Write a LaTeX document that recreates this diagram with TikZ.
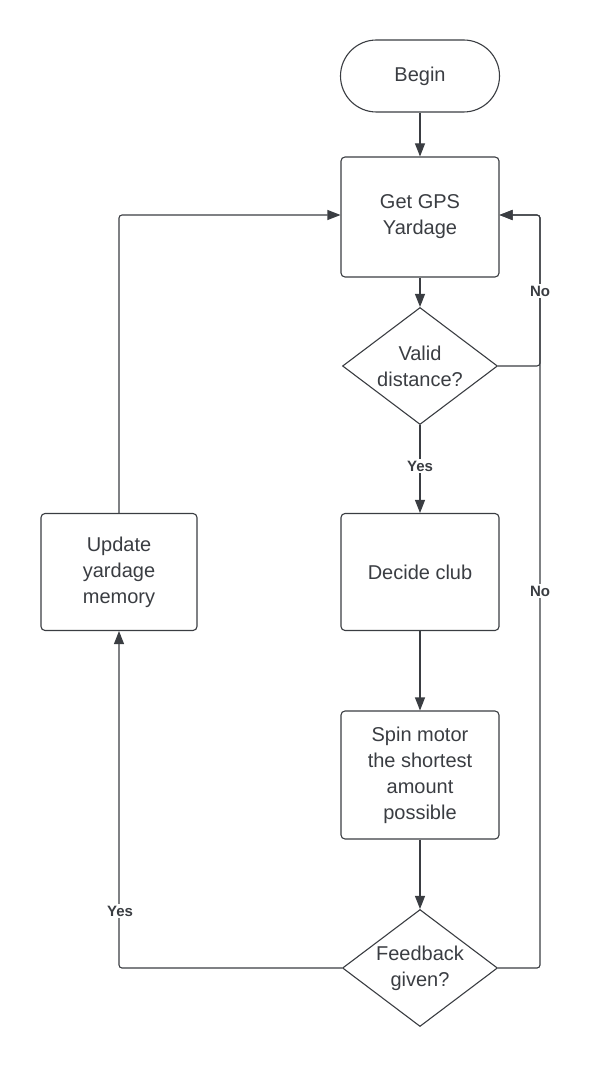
\documentclass[tikz,border=0pt]{standalone}
\usepackage{fontspec}
\setmainfont{Liberation Sans}
\usetikzlibrary{shapes.geometric,arrows.meta}
\definecolor{ink}{HTML}{3A3D42}
\begin{document}
\begin{tikzpicture}[x=1pt,y=-1pt,
  every node/.style={text=ink},
  box/.style={draw=ink, line width=1.1pt, rounded corners=4pt, minimum width=158pt, minimum height=118pt, align=center, font=\fontsize{20}{26}\selectfont},
  term/.style={draw=ink, line width=1.1pt, rounded corners=36pt, minimum width=159pt, minimum height=72pt, font=\fontsize{20}{26}\selectfont},
  dec/.style={draw=ink, line width=1.1pt, diamond, aspect=1.32, inner sep=0pt, minimum width=155pt, minimum height=117pt, align=center, font=\fontsize{20}{26}\selectfont},
  conn/.style={draw=ink, line width=1.1pt, rounded corners=3pt},
  arr/.style={conn, -{Triangle[length=13pt,width=10pt]}},
  lab/.style={fill=white, font=\bfseries\fontsize{15}{17}\selectfont, inner sep=2pt}
]
\useasboundingbox (0,0) rectangle (590,1067);
\node[term] (begin) at (420,76) {Begin};
\node[box, minimum height=120pt] (gps) at (420,217) {Get GPS\\Yardage};
\node[dec] (valid) at (420,366) {Valid\\distance?};
\node[box, minimum height=117pt] (decide) at (420,572) {Decide club};
\node[box, minimum height=128pt] (spin) at (420,775) {Spin motor\\the shortest\\amount\\possible};
\node[dec] (fb) at (420,968) {Feedback\\given?};
\node[box, minimum width=156pt, minimum height=117pt] (upd) at (119,572) {Update\\yardage\\memory};

\coordinate (rtop) at (540,215);
\coordinate (ltop) at (120,215);

\draw[arr] (begin) -- (gps);
\draw[arr] (gps) -- (valid);
\draw[arr] (valid) -- (decide);
\draw[arr] (decide) -- (spin);
\draw[arr] (spin) -- (fb);
\draw[arr] (valid.east) -| (rtop) -- (gps.east |- rtop);
\draw[arr] (fb.east) -| (rtop) -- (gps.east |- rtop);
\draw[arr] (fb.west) -| (upd.south);
\draw[arr] (upd.north) |- (gps.west |- ltop);
\node[lab] (yes1) at (420,466) {Yes};
\node[lab] (no1) at (540,291) {No};
\node[lab] (no2) at (540,591) {No};
\node[lab] (yes2) at (120,911) {Yes};
\end{tikzpicture}
\end{document}
